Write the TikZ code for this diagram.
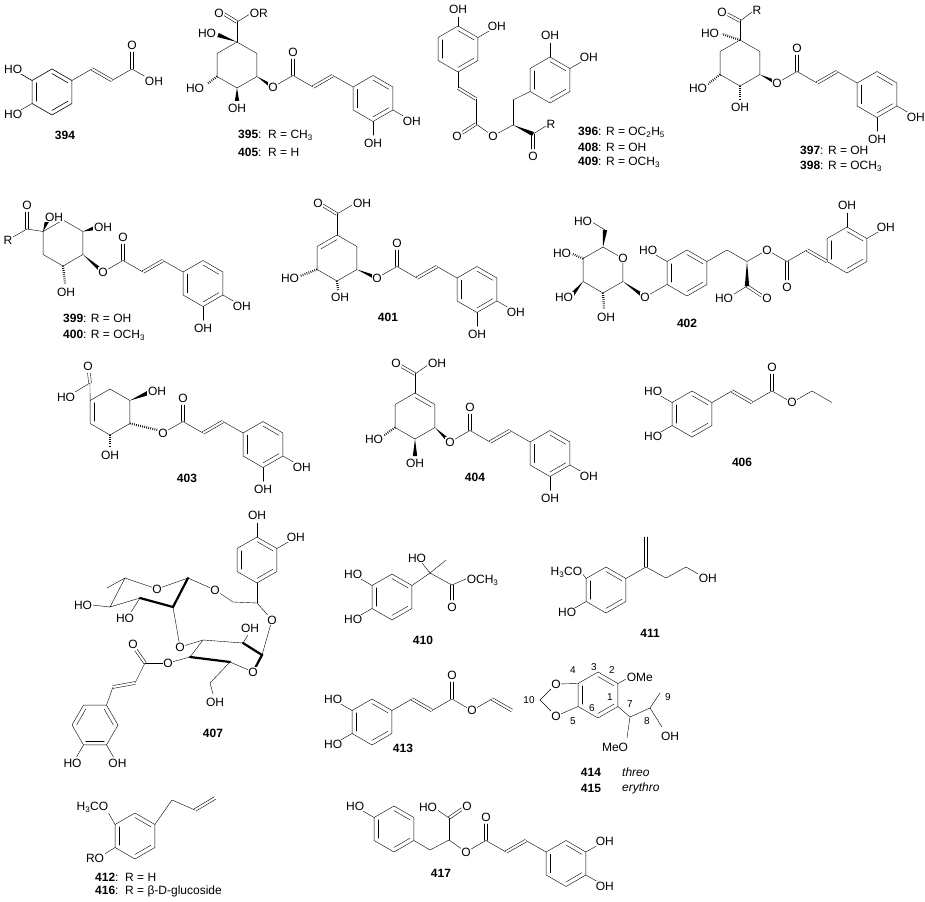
\documentclass[tikz,border=0pt]{standalone}
\usepackage{fontspec}
\setmainfont{Liberation Sans}
\usetikzlibrary{calc}
\pgfdeclarelayer{fg}\pgfsetlayers{main,fg}
\tikzset{
 lab/.style={font=\fontsize{12}{13}\selectfont,inner sep=0.6pt,fill=white},
 num/.style={font=\fontsize{12}{13}\selectfont\bfseries,inner sep=0pt},
 txt/.style={font=\fontsize{12}{13}\selectfont,inner sep=0pt,anchor=west},
 loc/.style={font=\fontsize{10}{11}\selectfont,inner sep=0pt},
 hash/.style={dash pattern=on 0.7pt off 1.4pt,line width=2.2pt,line cap=butt}}
\newcommand\hex[4][0]{\coordinate (#2c) at (#3,#4);
 \foreach \i in {1,...,6}{\coordinate (#2\i) at ($(#2c)+({-150+60*\i+#1}:23)$);}
 \draw (#21)--(#22)--(#23)--(#24)--(#25)--(#26)--cycle;}
\newcommand\inb[3]{\draw ($(#1#2)!0.2!(#1c)$)--($(#1#3)!0.2!(#1c)$);}
\newcommand\arom[4][0]{\hex[#1]{#2}{#3}{#4}\inb{#2}{1}{2}\inb{#2}{3}{4}\inb{#2}{5}{6}}
\newcommand\at[3][]{\begin{pgfonlayer}{fg}\node[lab,#1] at (#2) {#3};\end{pgfonlayer}}
\newcommand\sub[4][]{\draw[#1] (#2#3)--($(#2c)!1.6!(#2#3)$);\at{$(#2c)!1.95!(#2#3)$}{#4}}
\newcommand\wdg[2]{\fill (#1) -- ($(#2)!2.2pt!90:(#1)$) -- ($(#2)!2.2pt!-90:(#1)$) -- cycle;}
\newcommand\db[2]{\draw ($(#1)!1.4pt!90:(#2)$)--($(#2)!1.4pt!-90:(#1)$);
 \draw ($(#1)!1.4pt!-90:(#2)$)--($(#2)!1.4pt!90:(#1)$);}
\newcommand\caffE[3]{%
 \coordinate (#1O) at (#2,#3);
 \coordinate (#1C) at (#2+20,#3-11.5);
 \coordinate (#1D) at (#2+40,#3);
 \coordinate (#1E) at (#2+60,#3-11.5);
 \coordinate (#1F) at (#2+20,#3-28);
 \arom{#1}{#2+100}{#3+11.5}
 \draw (#1O)--(#1C)--(#1D) (#1E)--(#16);
 \db{#1D}{#1E}\db{#1C}{#1F}
 \at{#1O}{O}\at{#2+20,#3-35}{O}}
\begin{document}
\begin{tikzpicture}[x=1pt,y=-1pt,line width=0.6pt,line cap=round]
\useasboundingbox (0,0) rectangle (925,901);
\fill[white] (0,0) rectangle (925,901);
% 394
\arom{a}{52}{92}\sub{a}{6}{HO}\sub{a}{5}{HO}
\draw (a2)--++(20,-11.5) coordinate (a7) ++(20,11.5) coordinate (a8) --++(20,-11.5) coordinate (a9) --++(14,8);
\path (a9)++(0,-17) coordinate (a10);
\db{a7}{a8}\db{a9}{a10}
\at{$(a9)+(0,-24)$}{O}\at{$(a9)+(22,12)$}{OH}
\node[num] at (65,135) {394};
% 395
\hex{b}{237}{65}
\draw (b1)--(237,22) coordinate (bC);
\db{bC}{224,14}\at{219,13}{O}
\draw (bC)--(250,14); \at[anchor=west]{249,13}{OR}
\wdg{b1}{218,35}\at{207,33}{HO}
\draw[hash] (b5)--(207,84); \at{195,88}{HO}
\wdg{b4}{237,101}\at{237,108}{OH}
\wdg{b3}{273,87}
\caffE{bb}{273}{87}\sub{bb}{3}{OH}\sub{bb}{4}{OH}
\node[txt] at (238,135) {\textbf{395}:\ \ R = CH\textsubscript{3}};
\node[txt] at (238,152) {\textbf{405}:\ \ R = H};
% 396
\arom{c}{458}{49}
\draw (c1)--(458,17); \at{458,9}{OH}
\sub{c}{2}{OH}
\draw (c4)--(458,88) coordinate (c7);
\coordinate (c8) at (476,99); \db{c7}{c8}
\draw (c8)--(476,124) coordinate (c9);
\db{c9}{462,133}\at{457,136}{O}
\draw (c9)--(493,136)--(513,125) coordinate (c10);
\draw (c10)--(513,100) coordinate (c11);
\arom{d}{550}{80}\draw (c11)--(d5);
\sub{d}{1}{OH}\sub{d}{2}{OH}
\coordinate (c12) at (533,134);
\wdg{c10}{c12}
\draw (c12)--(546,126); \at{551,124}{R}
\db{c12}{533,149}\at{533,156}{O}
\at{493,136}{O}
\node[txt] at (578,132) {\textbf{396}: R = OC\textsubscript{2}H\textsubscript{5}};
\node[txt] at (578,147) {\textbf{408}: R = OH};
\node[txt] at (578,162) {\textbf{409}: R = OCH\textsubscript{3}};
% 397
\hex{e}{740}{63}
\coordinate (eC) at (740,21); \draw (e1)--(eC);
\db{eC}{727,14}\draw (eC)--(752,12);
\at{722,12}{O}\at{757,10}{R}
\draw[hash] (e1)--(722,34); \at{710,33}{HO}
\draw[hash] (e5)--(708,84); \at{698,88}{HO}
\draw[hash] (e4)--(740,100); \at{740,107}{OH}
\wdg{e3}{777,83}
\caffE{ee}{777}{83}\sub{ee}{3}{OH}\sub{ee}{4}{OH}
\node[txt] at (800,150) {\textbf{397}: R = OH};
\node[txt] at (800,166) {\textbf{398}: R = OCH\textsubscript{3}};
% 399
\hex{f}{63}{243}
\coordinate (fC) at (27,229); \draw (f6)--(fC);
\db{fC}{27,212}\at{27,205}{O}
\draw (fC)--(13,237); \at{8,240}{R}
\wdg{f6}{47,221}\at{54,217}{OH}
\wdg{f2}{95,228}\at{103,227}{OH}
\wdg{f3}{103,272}
\draw[hash] (f4)--(65,284); \at{66,292}{OH}
\caffE{ff}{103}{272}\sub{ff}{3}{OH}\sub{ff}{4}{OH}
\node[txt] at (63,318) {\textbf{399}: R = OH};
\node[txt] at (63,335) {\textbf{400}: R = OCH\textsubscript{3}};
% 401
\hex{g}{337}{258}\inb{g}{6}{1}
\draw (g1)--(337,214) coordinate (gC);
\db{gC}{322,205}\at{318,203}{O}
\draw (gC)--(352,205); \at{362,203}{OH}
\draw[hash] (g5)--(300,276); \at{290,278}{HO}
\draw[hash] (g4)--(338,290); \at{340,297}{OH}
\wdg{g3}{377,278}
\caffE{gg}{377}{278}\sub{gg}{3}{OH}\sub{gg}{4}{OH}
\node[num] at (388,317) {401};
% 402
\hex{h}{603}{270}\at{h2}{O}
\wdg{h1}{605,230}\draw (605,230)--(592,222); \at{583,221}{HO}
\draw[hash] (h6)--(570,253); \at{562,253}{HO}
\wdg{h5}{572,295}\at{564,297}{HO}
\draw[hash] (h4)--(604,309); \at{606,317}{OH}
\wdg{h3}{645,297}
\arom{i}{687}{273}
\draw (i5)--(645,297); \at{645,297}{O}
\sub{i}{6}{HO}
\draw (i2)--(727,250) coordinate (i7)--(747,261.5) coordinate (i8)--(767,250);
\coordinate (i9) at (747,286); \wdg{i8}{i9}
\draw (i9)--(731,296); \at{724,298}{HO}
\db{i9}{762,296}\at{767,298}{O}
\draw (767,250)--(787,261.5) coordinate (j7)--(807,250) coordinate (j8);
\db{j7}{787,280}\at{787,287}{O}
\arom{j}{847}{250}
\db{j8}{j5}
\sub{j}{1}{OH}\sub{j}{2}{OH}
\at{767,250}{O}
\node[num] at (687,323) {402};
% 403
\hex{k}{110}{412}\inb{k}{5}{6}
\coordinate (kC) at (90,383); \draw (k6)--(kC);
\db{kC}{89,373}\at{88,366}{O}
\draw (kC)--(75,392); \at{66,397}{HO}
\wdg{k2}{148,393}\at{157,391}{OH}
\draw[hash] (k4)--(110,447); \at{110,455}{OH}
\draw[hash] (k3)--(158,430);
\caffE{kk}{163}{433}\sub{kk}{3}{OH}\sub{kk}{4}{OH}
\node[num] at (187,478) {403};
% 404
\hex{l}{415}{416}\inb{l}{1}{2}
\coordinate (lC) at (415,374); \draw (l1)--(lC);
\db{lC}{401,366}\at{396,363}{O}
\draw (lC)--(428,365); \at{437,363}{OH}
\draw[hash] (l5)--(383,436); \at{374,439}{HO}
\wdg{l4}{415,456}\at{415,463}{OH}
\wdg{l3}{450,442}
\caffE{ll}{450}{442}\sub{ll}{3}{OH}\sub{ll}{4}{OH}
\node[num] at (475,477) {404};
% 406
\arom{m}{692}{414}\sub{m}{6}{HO}\sub{m}{5}{HO}
\draw (m2)--++(20,-11.5) coordinate (m7) ++(20,11.5) coordinate (m8) --++(20,-11.5) coordinate (m9) --++(20,11.5) coordinate (m10)--++(20,-11.5)--++(20,11.5);
\path (m9)++(0,-17) coordinate (m11);
\db{m7}{m8}\db{m9}{m11}
\at{$(m9)+(0,-24)$}{O}\at{m10}{O}
\node[num] at (742,462) {406};
% 407
\coordinate (n5) at (125,578); \coordinate (nO) at (157,589);
\coordinate (n1) at (188,578); \coordinate (n2) at (173,607);
\coordinate (n3) at (140,598); \coordinate (n4) at (110,607);
\draw (n5)--(nO)--(n1);
\draw[line width=2.2pt] (n1)--(n2)--(n3);
\draw (n3)--(n4)--(n5)--(107,588);
\draw (n4)--(92,605); \at{83,605}{HO}
\draw (n3)--(131,612); \at{125,618}{HO}
\at{nO}{O}
\draw (n1)--(215,590)--(233,602) coordinate (n6)--(257,603) coordinate (n7);
\at{215,590}{O}
\arom{o}{257}{560}\draw (o4)--(n7);
\sub{o}{1}{OH}\sub{o}{2}{OH}
\coordinate (p3) at (203,640); \coordinate (p2) at (243,643);
\coordinate (p1) at (262,655); \coordinate (pO) at (253,672);
\coordinate (p5) at (230,662); \coordinate (p4) at (190,657);
\draw (p3)--(p2);
\draw[line width=2.2pt] (p2)--(p1)--(pO);
\draw (pO)--(p5);
\draw[line width=2.2pt] (p5)--(p4);
\draw (p4)--(p3);
\at{pO}{O}
\draw (n2)--(180,647)--(p3); \at{180,647}{O}
\draw (p2)--(248,635); \at{250,628}{OH}
\draw (p1)--(272,620)--(n7); \at{272,620}{O}
\draw (p5)--(210,683)--(213,694); \at{215,702}{OH}
\draw (p4)--(168,663); \at{168,663}{O}
\draw (168,663)--(145,663) coordinate (q1);
\db{q1}{136,650}\at{133,644}{O}
\draw (q1)--(135,683) coordinate (q2);
\coordinate (q3) at (113,687); \db{q2}{q3}
\arom[30]{r}{95}{725}\draw (q3)--(r1);
\sub{r}{3}{OH}\sub{r}{4}{HO}
\node[num] at (213,733) {407};
% 410
\arom{s}{392}{597}\sub{s}{6}{HO}\sub{s}{5}{HO}
\draw (s2)--(430,573) coordinate (s7);
\draw (s7)--(422,563); \at{417,558}{HO}
\draw (s7)--(446,560);
\draw (s7)--(452,585) coordinate (s8);
\db{s8}{452,600}\at{452,607}{O}
\draw (s8)--(468,578); \at[anchor=west]{466,580}{OCH\textsubscript{3}}
\node[num] at (423,640) {410};
% 411
\arom{t}{606}{590}
\draw (t6)--(582,573); \at[anchor=east]{583,572}{H\textsubscript{3}CO}
\sub{t}{5}{HO}
\draw (t2)--(646,567) coordinate (t7);
\db{t7}{646,537}
\draw (t7)--(666,578)--(686,567)--(700,575);
\at[anchor=west]{698,578}{OH}
\node[num] at (650,633) {411};
% 413
\arom{u}{372}{722}\sub{u}{6}{HO}\sub{u}{5}{HO}
\draw (u2)--++(20,-11.5) coordinate (u7) ++(20,11.5) coordinate (u8) --++(20,-11.5) coordinate (u9) --++(20,11.5) coordinate (u10)--++(20,-11.5) coordinate (u11);
\path (u9)++(0,-17) coordinate (u12);
\path (u11)++(20,11.5) coordinate (u13);
\db{u7}{u8}\db{u9}{u12}\db{u11}{u13}
\at{$(u9)+(0,-24)$}{O}\at{u10}{O}
\node[num] at (403,748) {413};
% 414
\arom{v}{598}{695}
\draw (v6)--(556,684)--(540,700)--(556,716)--(v5);
\at{556,684}{O}\at{556,716}{O}
\node[loc] at (529,700) {10};
\node[loc] at (573,670) {4};\node[loc] at (594,667) {3};
\node[loc] at (612,670) {2};\node[loc] at (610,697) {1};
\node[loc] at (592,708) {6};\node[loc] at (573,721) {5};
\draw (v2)--(628,678); \at[anchor=west]{626,677}{OMe}
\draw (v3)--(630,717) coordinate (w7)--(650,708) coordinate (w8)--(660,693);
\draw (w8)--(662,727); \at{670,736}{OH}
\draw (w7)--(627,738); \at{615,747}{MeO}
\node[loc] at (630,704) {7};\node[loc] at (647,721) {8};\node[loc] at (668,697) {9};
\node[num] at (591,772) {414}; \node[txt] at (622,772) {\itshape threo};
\node[num] at (591,788) {415}; \node[txt] at (622,788) {\itshape erythro};
% 412
\arom{x}{135}{836}
\draw (x6)--(108,812); \at[anchor=east]{109,807}{H\textsubscript{3}CO}
\draw (x5)--(103,855); \at{95,858}{RO}
\draw (x2)--(172,800)--(195,810);
\db{195,810}{215,798}
\node[txt] at (95,877) {\textbf{412}:\ \ R = H};
\node[txt] at (95,891) {\textbf{416}:\ \ R = β-D-glucoside};
% 417
\arom{y}{394}{829}\sub{y}{6}{HO}
\draw (y3)--(430,850) coordinate (y7)--(449,840) coordinate (y8);
\draw (y8)--(449,818) coordinate (y9);
\draw (y9)--(436,809); \at{428,807}{HO}
\db{y9}{462,809}\at{467,806}{O}
\draw (y8)--(466,852);
\caffE{yy}{466}{852}\sub{yy}{2}{OH}\sub{yy}{3}{OH}
\node[num] at (441,873) {417};
\end{tikzpicture}
\end{document}
